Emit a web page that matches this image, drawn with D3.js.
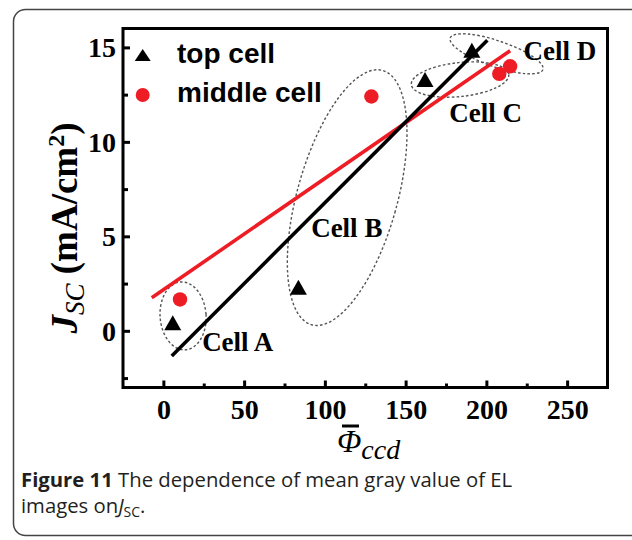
<!DOCTYPE html>
<html>
<head>
<meta charset="utf-8">
<script src="https://cdn.jsdelivr.net/npm/d3@7"></script>
<style>
  html, body { margin: 0; padding: 0; background: #fff; }
  svg { display: block; }
</style>
</head>
<body>
<svg id="chart" width="632" height="540"></svg>
<script>
// ---------- data ----------
const topCellX = [5.8, 83.6, 162, 191];
const topCellY = [0.43, 2.3, 13.3, 14.85];
const middleCellX = [10.3, 128.8, 208, 214.7];
const middleCellY = [1.66, 12.4, 13.6, 14.0];
const topFitX = [5.2, 200.6];
const topFitY = [-1.33, 15.38];
const middleFitX = [-7.2, 214.7];
const middleFitY = [1.75, 14.82];
const xTicks = [0, 50, 100, 150, 200, 250];
const xMinorTicks = [25, 75, 125, 175, 225];
const yTicks = [0, 5, 10, 15];
const yMinorTicks = [-2.5, 2.5, 7.5, 12.5];
const legendLabels = ["top cell", "middle cell"];
const cellNames = ["Cell A", "Cell B", "Cell C", "Cell D"];
// group outlines (centre in data units)
const cellCenterX = [12.2, 113.8, 183.7, 206.3];
const cellCenterY = [0.79, 7.05, 13.3, 14.66];
const cellLabelX = [24, 91.5, 177, 223];
const cellLabelY = [-1.05, 4.99, 11.06, 14.33];

// ---------- layout ----------
const svg = d3.select("#chart");
const x = d3.scaleLinear().domain([-25, 275]).range([123, 607.5]);
const y = d3.scaleLinear().domain([-3, 16]).range([387.5, 28.5]);
const serif = "'Liberation Serif', 'Times New Roman', serif";
const sans = "'Liberation Sans', Arial, sans-serif";
const red = "#ee1c24";

// outer rounded frame (right side runs off the page)
svg.append("rect")
  .attr("x", 13.5).attr("y", 9.5).attr("width", 660).attr("height", 526)
  .attr("rx", 12).attr("fill", "none").attr("stroke", "#444").attr("stroke-width", 1.5);

// ellipses
const ellSpec = [
  {a: 23, b: 34, rot: -4},
  {a: 50, b: 132, rot: 15.6},
  {a: 49, b: 17, rot: -6},
  {a: 49, b: 13, rot: 18.8}
];
const ell = svg.append("g");
cellNames.forEach((n, i) => {
  const s = ellSpec[i];
  ell.append("ellipse")
    .attr("transform", `translate(${x(cellCenterX[i])},${y(cellCenterY[i])}) rotate(${s.rot})`)
    .attr("rx", s.a).attr("ry", s.b)
    .attr("fill", "none").attr("stroke", "#555").attr("stroke-width", 1.4)
    .attr("stroke-dasharray", "2.6,2.2");
});

// fit lines
const line = d3.line().x(d => x(d[0])).y(d => y(d[1]));
svg.append("path").datum(middleFitX.map((v, i) => [v, middleFitY[i]]))
  .attr("d", line).attr("stroke", red).attr("stroke-width", 3.6).attr("fill", "none");
svg.append("path").datum(topFitX.map((v, i) => [v, topFitY[i]]))
  .attr("d", line).attr("stroke", "#000").attr("stroke-width", 3.6).attr("fill", "none");

// markers
function tri(cx, cy, w, h) {
  return `M${cx - w / 2},${cy + h / 2}L${cx + w / 2},${cy + h / 2}L${cx},${cy - h / 2}Z`;
}
svg.append("g").selectAll("path").data(topCellX.map((v, i) => [v, topCellY[i]]))
  .join("path").attr("d", d => tri(x(d[0]), y(d[1]), 17, 15)).attr("fill", "#000");
svg.append("g").selectAll("circle").data(middleCellX.map((v, i) => [v, middleCellY[i]]))
  .join("circle").attr("cx", d => x(d[0])).attr("cy", d => y(d[1])).attr("r", 7.2).attr("fill", red);

// axes frame
svg.append("rect")
  .attr("x", x.range()[0]).attr("y", y.range()[1])
  .attr("width", x.range()[1] - x.range()[0]).attr("height", y.range()[0] - y.range()[1])
  .attr("fill", "none").attr("stroke", "#000").attr("stroke-width", 3);

const xAxis = svg.append("g").attr("transform", `translate(0,${y.range()[0]})`)
  .call(d3.axisBottom(x).tickValues(xTicks).tickSize(-7).tickFormat(d3.format("d")));
const xMinor = svg.append("g").attr("transform", `translate(0,${y.range()[0]})`)
  .call(d3.axisBottom(x).tickValues(xMinorTicks).tickSize(-4).tickFormat(""));
const yAxis = svg.append("g").attr("transform", `translate(${x.range()[0]},0)`)
  .call(d3.axisLeft(y).tickValues(yTicks).tickSize(-7).tickFormat(d3.format("d")));
const yMinor = svg.append("g").attr("transform", `translate(${x.range()[0]},0)`)
  .call(d3.axisLeft(y).tickValues(yMinorTicks).tickSize(-5).tickFormat(""));
[xAxis, xMinor, yAxis, yMinor].forEach(g => {
  g.select(".domain").remove();
  g.selectAll(".tick line").attr("stroke", "#000").attr("stroke-width", 3);
});
xAxis.selectAll(".tick text")
  .attr("y", 31.5).attr("dy", null)
  .attr("font-family", serif).attr("font-weight", "bold").attr("font-size", 28).attr("fill", "#000");
yAxis.selectAll(".tick text")
  .attr("x", -7).attr("dy", "0.33em")
  .attr("font-family", serif).attr("font-weight", "bold").attr("font-size", 28).attr("fill", "#000");

// legend
const lg = svg.append("g");
lg.append("path").attr("d", tri(142.7, 55, 16, 12)).attr("fill", "#000");
lg.append("circle").attr("cx", 142.7).attr("cy", 95).attr("r", 7).attr("fill", red);
lg.selectAll("text").data(legendLabels).join("text")
  .attr("x", 177).attr("y", (d, i) => 63 + i * 38.7)
  .attr("font-family", sans).attr("font-weight", "bold").attr("font-size", 28)
  .text(d => d);

// cell labels
svg.append("g").selectAll("text").data(cellNames).join("text")
  .attr("x", (d, i) => x(cellLabelX[i])).attr("y", (d, i) => y(cellLabelY[i]))
  .attr("font-family", serif).attr("font-weight", "bold").attr("font-size", 27)
  .text(d => d);

// y-axis title
const yt = svg.append("text")
  .attr("transform", "translate(77,228) rotate(-90)")
  .attr("text-anchor", "middle")
  .attr("font-family", serif).attr("font-weight", "bold").attr("font-size", 37);
yt.append("tspan").attr("font-style", "italic").text("J");
yt.append("tspan").attr("font-style", "italic").attr("font-weight", "normal").attr("font-size", 27).attr("dy", 7).text("SC");
yt.append("tspan").attr("dy", -7).text(" (mA/cm");
yt.append("tspan").attr("font-size", 24).attr("dy", -13).text("2");
yt.append("tspan").attr("dy", 13).text(")");

// x-axis title
const xt = svg.append("text").attr("x", 337).attr("y", 452)
  .attr("font-family", serif).attr("font-style", "italic").attr("font-size", 32);
xt.append("tspan").text("Φ");
xt.append("tspan").attr("font-size", 28).attr("dy", 7).text("ccd");
svg.append("line").attr("x1", 342).attr("x2", 359).attr("y1", 426).attr("y2", 426)
  .attr("stroke", "#000").attr("stroke-width", 3);

// caption
const capFont = "'Open Sans', 'Noto Sans', sans-serif";
const c1 = svg.append("text").attr("x", 21).attr("y", 487)
  .attr("font-family", capFont).attr("font-size", 20.3).attr("fill", "#231f20");
c1.append("tspan").attr("font-weight", "bold").text("Figure 11");
c1.append("tspan").text(" The dependence of mean gray value of EL");
const c2 = svg.append("text").attr("x", 21).attr("y", 513)
  .attr("font-family", capFont).attr("font-size", 20.3).attr("fill", "#231f20");
c2.append("tspan").text("images on");
c2.append("tspan").attr("font-style", "italic").text("J");
c2.append("tspan").attr("font-size", 14).attr("dy", 4).text("SC");
c2.append("tspan").attr("dy", -4).text(".");
</script>
</body>
</html>
